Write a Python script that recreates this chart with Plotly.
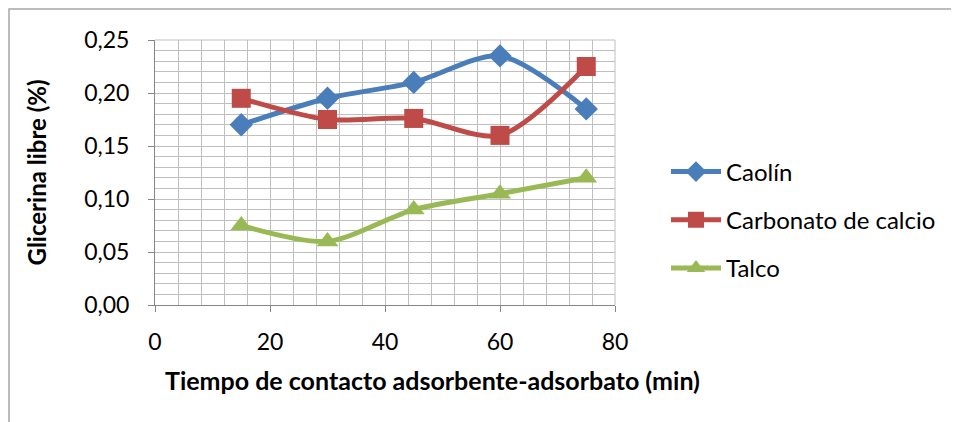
import plotly.graph_objects as go

# Tiempo de contacto (min)
tiempo = [15, 30, 45, 60, 75]

# Glicerina libre (%) por adsorbente
caolin = [0.170, 0.195, 0.210, 0.235, 0.185]
carbonato = [0.195, 0.175, 0.176, 0.160, 0.225]
talco = [0.075, 0.060, 0.090, 0.105, 0.120]

series = [
    ("Caolín", caolin, "#4A7EBB", "diamond", 18),
    ("Carbonato de calcio", carbonato, "#BE4B48", "square", 19),
    ("Talco", talco, "#98B954", "triangle-up", 19),
]

# page body adds 8px offset in the browser
W, H = 959, 422
ML, MR, MT, MB = 147, 352, 32, 125
PW = W - ML - MR
PH = H - MT - MB

FONT = "Lato, Carlito, Calibri, sans-serif"

fig = go.Figure()
for i, (name, vals, color, sym, size) in enumerate(series):
    fig.add_trace(go.Scatter(
        x=tiempo, y=vals, name=name, mode="lines+markers",
        line=dict(color=color, width=5, shape="spline", smoothing=0.8),
        marker=dict(symbol=sym, size=size, color=color),
        legendgroup=str(i),
    ))

grid = "#BFBFBF"
fig.update_xaxes(
    range=[0, 80], dtick=20, tick0=0,
    showgrid=True, gridcolor=grid, gridwidth=1,
    minor=dict(dtick=4, showgrid=True, gridcolor=grid, gridwidth=1),
    showline=True, linecolor="#868686", linewidth=1,
    ticks="outside", ticklen=6, tickcolor="#868686",
    ticklabelstandoff=10,
    tickfont=dict(family=FONT, size=23, color="black"),
    zeroline=False, automargin=False,
)
fig.update_yaxes(
    range=[0, 0.25], dtick=0.05, tick0=0, tickformat=".2f",
    showgrid=True, gridcolor=grid, gridwidth=1,
    minor=dict(dtick=0.01, showgrid=True, gridcolor=grid, gridwidth=1),
    showline=True, linecolor="#868686", linewidth=1,
    ticks="outside", ticklen=6, tickcolor="#868686",
    ticklabelstandoff=14,
    tickfont=dict(family=FONT, size=23, color="black"),
    zeroline=False, automargin=False,
    title=dict(text="<b>Glicerina libre (%)</b>",
               font=dict(family=FONT, size=24, color="black"), standoff=30),
)

# x axis title sits right of the axis centre in the original
fig.add_annotation(
    text="<b>Tiempo de contacto adsorbente-adsorbato (min)</b>",
    xref="paper", yref="paper", x=(424 - ML) / PW, y=-(372 - 297) / PH,
    xanchor="center", yanchor="middle", showarrow=False,
    font=dict(family=FONT, size=25, color="black"),
)

# right/top edges of the plot area
fig.add_shape(type="line", xref="paper", yref="paper", x0=1, x1=1, y0=0, y1=1,
              line=dict(color=grid, width=1))
fig.add_shape(type="line", xref="paper", yref="paper", x0=0, x1=1, y0=1, y1=1,
              line=dict(color=grid, width=1))
# chart border
fig.add_shape(type="rect", xref="paper", yref="paper",
              x0=-(ML - 1) / PW, x1=(W - ML + 20) / PW,
              y0=-(MB + 20) / PH, y1=1 + (MT - 1) / PH,
              line=dict(color="#A6A6A6", width=1.5), layer="below")

fig.update_layout(
    width=W, height=H,
    margin=dict(l=ML, r=MR, t=MT, b=MB),
    paper_bgcolor="white", plot_bgcolor="white",
    separators=",.",
    showlegend=True,
    legend=dict(
        x=(658 - ML) / PW, y=(297 - 212) / PH, xanchor="left", yanchor="middle",
        font=dict(family=FONT, size=24, color="black"),
        itemwidth=50, tracegroupgap=14, bgcolor="rgba(0,0,0,0)",
    ),
    font=dict(family=FONT),
)

fig.write_html("out.html")
